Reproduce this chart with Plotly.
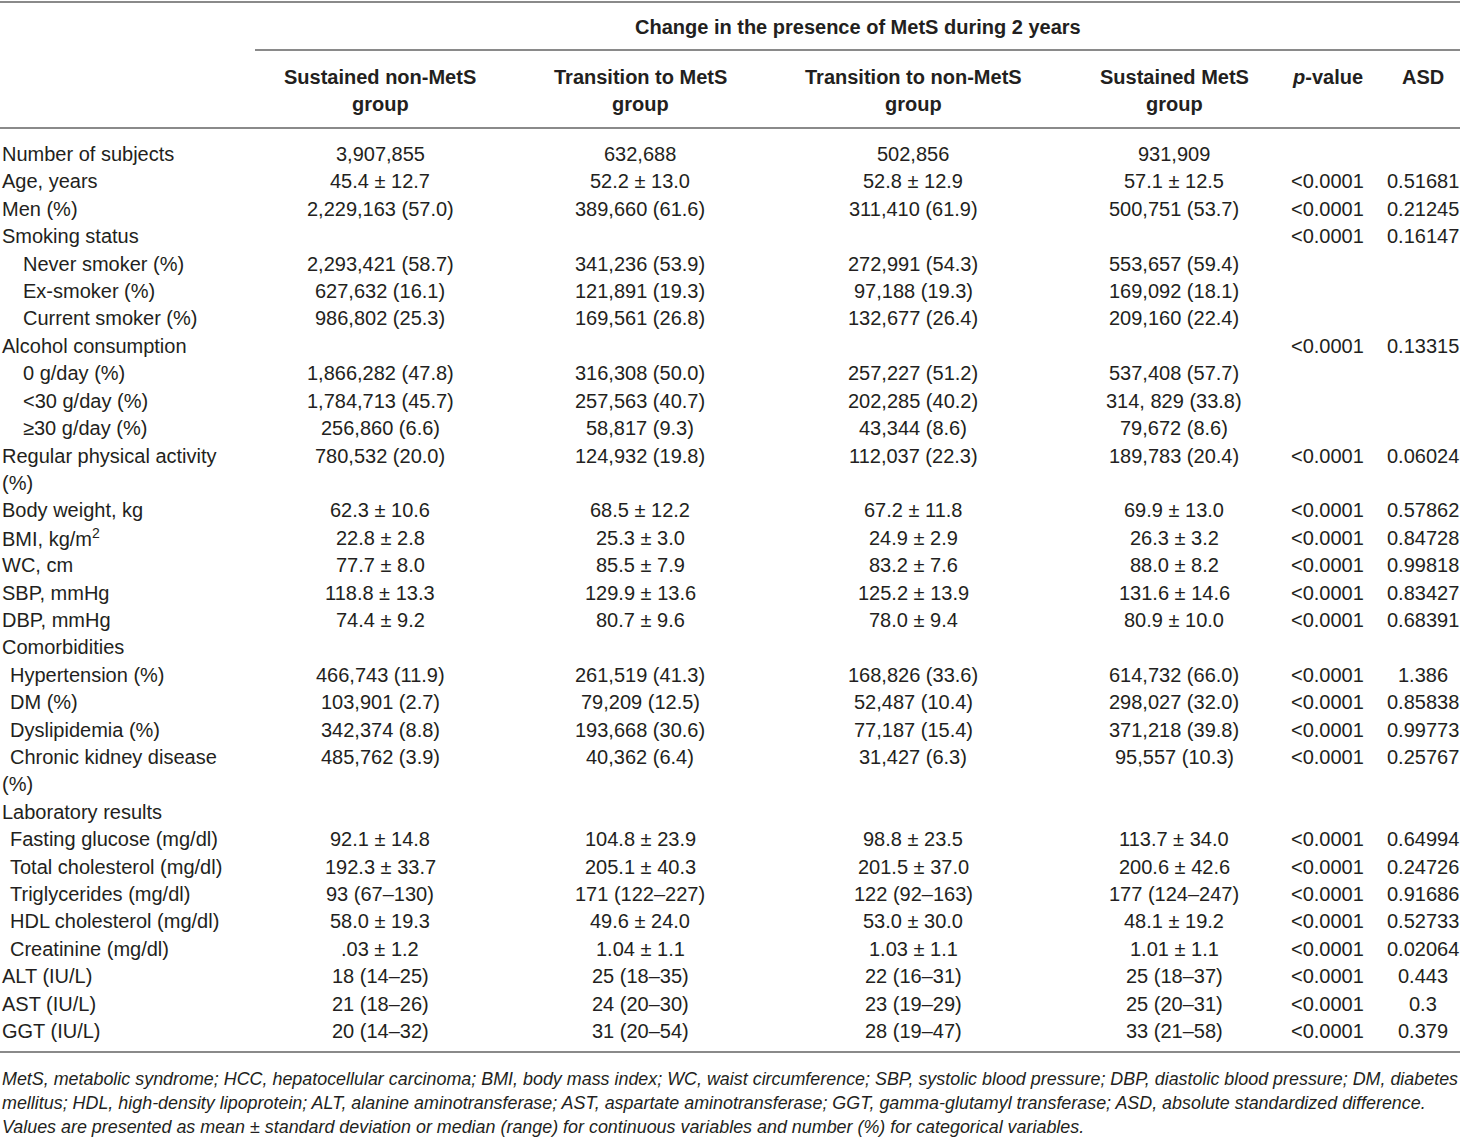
import plotly.graph_objects as go

# row labels and indent (px) of the first column
labels = ["Number of subjects", "Age, years", "Men (%)", "Smoking status",
          "Never smoker (%)", "Ex-smoker (%)", "Current smoker (%)",
          "Alcohol consumption", "0 g/day (%)", "&lt;30 g/day (%)", "≥30 g/day (%)",
          "Regular physical activity", "(%)", "Body weight, kg", "BMI, kg/m<sup>2</sup>",
          "WC, cm", "SBP, mmHg", "DBP, mmHg", "Comorbidities", "Hypertension (%)",
          "DM (%)", "Dyslipidemia (%)", "Chronic kidney disease", "(%)",
          "Laboratory results", "Fasting glucose (mg/dl)", "Total cholesterol (mg/dl)",
          "Triglycerides (mg/dl)", "HDL cholesterol (mg/dl)", "Creatinine (mg/dl)",
          "ALT (IU/L)", "AST (IU/L)", "GGT (IU/L)"]
indent = [0, 0, 0, 0, 21, 21, 21, 0, 21, 21, 21, 0, 0, 0, 0, 0, 0, 0, 0,
          8, 8, 8, 8, 0, 0, 8, 8, 8, 8, 8, 0, 0, 0]

sustained_non = ["3,907,855", "45.4 ± 12.7", "2,229,163 (57.0)", "", "2,293,421 (58.7)",
                 "627,632 (16.1)", "986,802 (25.3)", "", "1,866,282 (47.8)",
                 "1,784,713 (45.7)", "256,860 (6.6)", "780,532 (20.0)", "",
                 "62.3 ± 10.6", "22.8 ± 2.8", "77.7 ± 8.0", "118.8 ± 13.3", "74.4 ± 9.2", "",
                 "466,743 (11.9)", "103,901 (2.7)", "342,374 (8.8)", "485,762 (3.9)", "", "",
                 "92.1 ± 14.8", "192.3 ± 33.7", "93 (67–130)", "58.0 ± 19.3", ".03 ± 1.2",
                 "18 (14–25)", "21 (18–26)", "20 (14–32)"]
to_mets = ["632,688", "52.2 ± 13.0", "389,660 (61.6)", "", "341,236 (53.9)",
           "121,891 (19.3)", "169,561 (26.8)", "", "316,308 (50.0)", "257,563 (40.7)",
           "58,817 (9.3)", "124,932 (19.8)", "", "68.5 ± 12.2", "25.3 ± 3.0", "85.5 ± 7.9",
           "129.9 ± 13.6", "80.7 ± 9.6", "", "261,519 (41.3)", "79,209 (12.5)",
           "193,668 (30.6)", "40,362 (6.4)", "", "", "104.8 ± 23.9", "205.1 ± 40.3",
           "171 (122–227)", "49.6 ± 24.0", "1.04 ± 1.1", "25 (18–35)", "24 (20–30)",
           "31 (20–54)"]
to_non = ["502,856", "52.8 ± 12.9", "311,410 (61.9)", "", "272,991 (54.3)",
          "97,188 (19.3)", "132,677 (26.4)", "", "257,227 (51.2)", "202,285 (40.2)",
          "43,344 (8.6)", "112,037 (22.3)", "", "67.2 ± 11.8", "24.9 ± 2.9", "83.2 ± 7.6",
          "125.2 ± 13.9", "78.0 ± 9.4", "", "168,826 (33.6)", "52,487 (10.4)",
          "77,187 (15.4)", "31,427 (6.3)", "", "", "98.8 ± 23.5", "201.5 ± 37.0",
          "122 (92–163)", "53.0 ± 30.0", "1.03 ± 1.1", "22 (16–31)", "23 (19–29)",
          "28 (19–47)"]
sustained_mets = ["931,909", "57.1 ± 12.5", "500,751 (53.7)", "", "553,657 (59.4)",
                  "169,092 (18.1)", "209,160 (22.4)", "", "537,408 (57.7)",
                  "314, 829 (33.8)", "79,672 (8.6)", "189,783 (20.4)", "", "69.9 ± 13.0",
                  "26.3 ± 3.2", "88.0 ± 8.2", "131.6 ± 14.6", "80.9 ± 10.0", "",
                  "614,732 (66.0)", "298,027 (32.0)", "371,218 (39.8)", "95,557 (10.3)",
                  "", "", "113.7 ± 34.0", "200.6 ± 42.6", "177 (124–247)", "48.1 ± 19.2",
                  "1.01 ± 1.1", "25 (18–37)", "25 (20–31)", "33 (21–58)"]
P = "&lt;0.0001"
p_value = ["", P, P, P, "", "", "", P, "", "", "", P, "", P, P, P, P, P, "",
           P, P, P, P, "", "", P, P, P, P, P, P, P, P]
asd = ["", "0.51681", "0.21245", "0.16147", "", "", "", "0.13315", "", "", "",
       "0.06024", "", "0.57862", "0.84728", "0.99818", "0.83427", "0.68391", "",
       "1.386", "0.85838", "0.99773", "0.25767", "", "", "0.64994", "0.24726",
       "0.91686", "0.52733", "0.02064", "0.443", "0.3", "0.379"]

col_heads = ["Sustained non-MetS<br>group", "Transition to MetS<br>group",
             "Transition to non-MetS<br>group", "Sustained MetS<br>group",
             "<i>p</i>-value", "ASD"]
span_head = "Change in the presence of MetS during 2 years"
footnote = [
    "MetS, metabolic syndrome; HCC, hepatocellular carcinoma; BMI, body mass index; WC, waist circumference; "
    "SBP, systolic blood pressure; DBP, diastolic blood pressure; DM, diabetes",
    "mellitus; HDL, high-density lipoprotein; ALT, alanine aminotransferase; AST, aspartate aminotransferase; "
    "GGT, gamma-glutamyl transferase; ASD, absolute standardized difference.",
    "Values are presented as mean ± standard deviation or median (range) for continuous variables "
    "and number (%) for categorical variables.",
]

W, H = 1460, 1139
col_x = [380, 640, 913, 1174, 1327, 1423]
row0, row_step = 154, 27.41
TXT = "#231f20"
BODY = dict(family="Liberation Sans, Arial, sans-serif", size=20, color=TXT)
BOLD = dict(family="Liberation Sans, Arial, sans-serif", size=20, color=TXT)
FOOT = dict(family="Liberation Sans, Arial, sans-serif", size=17.9, color=TXT)

fig = go.Figure()
ann = []

def add(x, y, text, font, xanchor="center"):
    ann.append(dict(x=x, y=y, xref="x", yref="y", text=text, showarrow=False,
                    xanchor=xanchor, yanchor="middle", font=font))

# spanning header and column headers
add((255 + W) / 2, 27, "<b>" + span_head + "</b>", BOLD)
for cx, head in zip(col_x, col_heads):
    for k, ln in enumerate(head.split("<br>")):
        add(cx, 77 + 27 * k, "<b>" + ln + "</b>", BOLD)

# body rows
columns = [sustained_non, to_mets, to_non, sustained_mets, p_value, asd]
for i, lab in enumerate(labels):
    y = row0 + row_step * i
    add(indent[i], y, lab, BODY, xanchor="left")
    for cx, col in zip(col_x, columns):
        if col[i]:
            add(cx, y, col[i], BODY)

# footnote
for k, ln in enumerate(footnote):
    add(0, 1079 + 24 * k, "<i>" + ln + "</i>", FOOT, xanchor="left")

# rules
LINE = dict(color="#8a8a8a", width=2)
rules = [(0, 2), (255, 50), (0, 128), (0, 1052)]
shapes = [dict(type="line", x0=x0, x1=W, y0=y, y1=y, xref="x", yref="y", line=LINE)
          for x0, y in rules]

fig.update_layout(
    width=W, height=H,
    margin=dict(l=0, r=0, t=0, b=0),
    paper_bgcolor="white", plot_bgcolor="white",
    annotations=ann, shapes=shapes, showlegend=False,
    xaxis=dict(range=[0, W], visible=False, fixedrange=True),
    yaxis=dict(range=[H, 0], visible=False, fixedrange=True),
)

fig.write_html("out.html", config={"displayModeBar": False},
               post_script="document.body.style.margin='0';document.body.style.overflow='hidden';")
